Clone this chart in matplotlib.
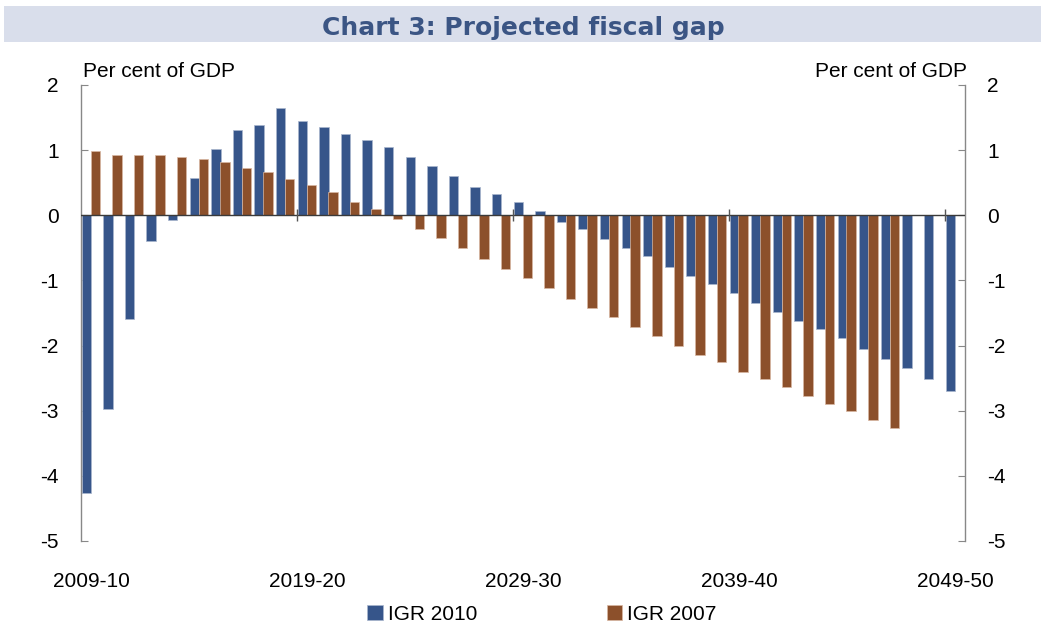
import numpy as np
import matplotlib
matplotlib.use("Agg")
import matplotlib.pyplot as plt
from matplotlib.patches import Rectangle

years = ["2009-10", "2010-11", "2011-12", "2012-13", "2013-14", "2014-15", "2015-16",
         "2016-17", "2017-18", "2018-19", "2019-20", "2020-21", "2021-22", "2022-23",
         "2023-24", "2024-25", "2025-26", "2026-27", "2027-28", "2028-29", "2029-30",
         "2030-31", "2031-32", "2032-33", "2033-34", "2034-35", "2035-36", "2036-37",
         "2037-38", "2038-39", "2039-40", "2040-41", "2041-42", "2042-43", "2043-44",
         "2044-45", "2045-46", "2046-47", "2047-48", "2048-49", "2049-50"]

igr2010 = [-4.26, -2.97, -1.59, -0.39, -0.07, 0.58, 1.01, 1.31, 1.39, 1.65, 1.45,
           1.36, 1.25, 1.16, 1.05, 0.90, 0.76, 0.61, 0.43, 0.32, 0.20, 0.06, -0.10,
           -0.21, -0.36, -0.50, -0.62, -0.79, -0.93, -1.05, -1.19, -1.34, -1.48,
           -1.62, -1.74, -1.88, -2.06, -2.20, -2.35, -2.52, -2.69]

igr2007 = [0.98, 0.93, 0.93, 0.93, 0.90, 0.87, 0.82, 0.72, 0.67, 0.56, 0.46, 0.35,
           0.20, 0.09, -0.06, -0.21, -0.35, -0.50, -0.67, -0.82, -0.96, -1.11, -1.28,
           -1.42, -1.56, -1.71, -1.85, -2.00, -2.14, -2.25, -2.40, -2.51, -2.63,
           -2.78, -2.89, -3.01, -3.15, -3.26]

tick_labels = ["2009-10", "2019-20", "2029-30", "2039-40", "2049-50"]
series_names = ["IGR 2010", "IGR 2007"]

BLUE = "#36558A"
ORANGE = "#8C502B"

plt.rcParams['font.family'] = ['Liberation Sans', 'DejaVu Sans']

fig = plt.figure(figsize=(10.41, 6.25), dpi=100)

# title band
fig.patches.append(Rectangle((4 / 1041, 1 - 42 / 625), 1 - 4 / 1041, 36 / 625,
                             transform=fig.transFigure, facecolor="#D9DEEB",
                             edgecolor="none", zorder=0))
fig.text(523 / 1041, 1 - 35 / 625, "Chart 3: Projected fiscal gap",
         ha="center", va="baseline", fontsize=18, fontweight="bold",
         color="#3B5584", family=["DejaVu Sans"])

ax = fig.add_axes([81 / 1041, 1 - 541 / 625, 884 / 1041, 456 / 625])

x = np.arange(len(years))
v10 = np.array(igr2010, dtype=float)
v07 = np.full(len(years), np.nan)
v07[:len(igr2007)] = igr2007

b1 = ax.bar(x - 0.253, v10, width=0.43, color=BLUE, edgecolor="#A9B6CE",
            linewidth=0.5, label=series_names[0], zorder=2)
b2 = ax.bar(x + 0.162, v07, width=0.44, color=ORANGE, edgecolor="#D9B8A3",
            linewidth=0.5, label=series_names[1], zorder=3)

ax.set_xlim(-0.5, 40.43)
ax.set_ylim(-5, 2)

# zero line with category ticks
ax.axhline(0, color="#3A3A3A", linewidth=1.0, zorder=4)
tick_idx = [years.index(t) for t in tick_labels]
ax.vlines([i - 0.5 for i in tick_idx[1:]], -0.09, 0.09, color="#555555",
          linewidth=1.0, zorder=4)

ax.set_xticks(tick_idx)
ax.set_xticklabels(tick_labels, fontsize=15)
ax.tick_params(axis="x", length=0, pad=22)

ax.set_yticks(range(-5, 3))
ax.set_yticklabels([str(v) for v in range(-5, 3)], fontsize=15)
ax.tick_params(axis="y", direction="in", length=5, color="#888888", pad=16,
               left=True, right=True, labelleft=True, labelright=True)

for s in ["top", "bottom"]:
    ax.spines[s].set_visible(False)
for s in ["left", "right"]:
    ax.spines[s].set_color("#888888")
    ax.spines[s].set_linewidth(1.0)

fig.text(83 / 1041, 1 - 77 / 625, "Per cent of GDP", ha="left", va="baseline",
         fontsize=15)
fig.text(967 / 1041, 1 - 77 / 625, "Per cent of GDP", ha="right", va="baseline",
         fontsize=15)

fig.legend(handles=[b1, b2], loc="center", bbox_to_anchor=(542 / 1041, 1 - 614 / 625),
           ncol=2, frameon=False, fontsize=15, handlelength=0.75, handleheight=0.75,
           handletextpad=0.25, columnspacing=6.2, borderaxespad=0)

fig.savefig("out.png", dpi=100)
